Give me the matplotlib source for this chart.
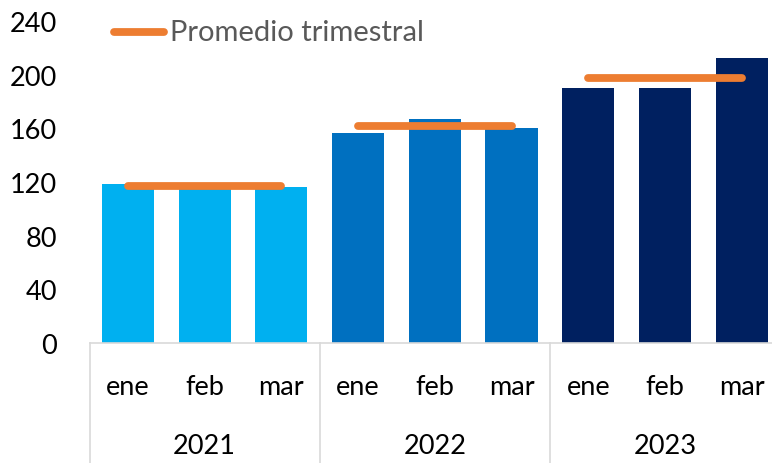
import matplotlib
matplotlib.use("Agg")
import matplotlib.pyplot as plt
from matplotlib.lines import Line2D

years = ["2021", "2022", "2023"]
months = ["ene", "feb", "mar"]
values = [118.5, 117.0, 116.3, 156.5, 167.0, 160.2, 190.0, 190.0, 212.4]
averages = [117.3, 161.7, 197.3]
year_colors = ["#00B0F0", "#0070C0", "#002060"]
yticks = [0, 40, 80, 120, 160, 200, 240]

plt.rcParams['font.family'] = ['Lato', 'DejaVu Sans']

W, H = 772, 464
FS = 19.5
fig = plt.figure(figsize=(W / 100, H / 100), dpi=100)
ax = fig.add_axes([89.6 / W, 1 - 344 / H, (780 - 89.6) / W, (344 - 22) / H])

x = list(range(len(values)))
colors = [year_colors[i // 3] for i in x]
ax.bar(x, values, width=0.68, color=colors, zorder=2)

for i, avg in enumerate(averages):
    ax.plot([3 * i, 3 * i + 2], [avg, avg], color="#ED7D31", lw=5.6,
            solid_capstyle="round", zorder=3)

ax.set_xlim(-0.5, 8.5)
ax.set_ylim(0, 240)
ax.set_yticks(yticks)
ax.set_yticklabels([str(t) for t in yticks], fontsize=FS)
ax.set_xticks(x)
ax.set_xticklabels(months * 3, fontsize=FS)
ax.tick_params(axis="y", length=0, pad=23.5)
ax.tick_params(axis="x", length=0, pad=22)

for s in ["top", "right", "left"]:
    ax.spines[s].set_visible(False)
ax.spines["bottom"].set_color("#D9D9D9")
ax.spines["bottom"].set_linewidth(1.2)

axh = 344 - 22
bottom = -(H - 344) / axh
for xs in [-0.5, 2.5, 5.5, 8.5]:
    ax.plot([xs, xs], [0, bottom], transform=ax.get_xaxis_transform(),
            color="#D9D9D9", lw=1.2, clip_on=False)

for i, yr in enumerate(years):
    ax.text(3 * i + 1, -(446 - 344) / axh, yr, transform=ax.get_xaxis_transform(),
            ha="center", va="center", fontsize=FS, color="black")

# legend
fig.add_artist(Line2D([114 / W, 164 / W], [1 - 33 / H, 1 - 33 / H], color="#ED7D31",
                      lw=5.6, solid_capstyle="round"))
fig.text(170 / W, 1 - 41 / H, "Promedio trimestral", fontsize=21, color="#595959",
         ha="left", va="baseline")

fig.savefig("out.png", dpi=100)
